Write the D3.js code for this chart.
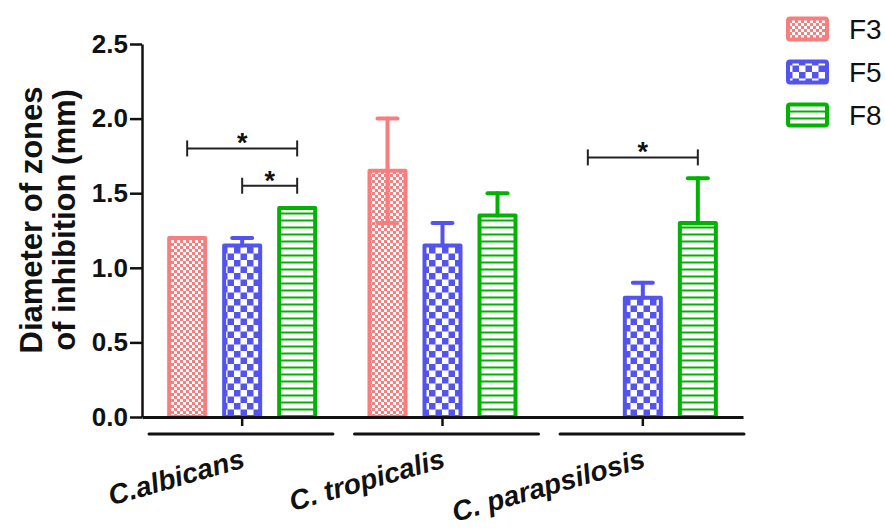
<!DOCTYPE html>
<html>
<head>
<meta charset="utf-8">
<script src="https://cdn.jsdelivr.net/npm/d3@7"></script>
<style>
  body { margin: 0; background: #fff; }
  text { font-family: "Liberation Sans", Arial, sans-serif; fill: #111; }
</style>
</head>
<body>
<div id="canvas"></div>
<script>
const categories = ["C.albicans", "C. tropicalis", "C. parapsilosis"];
const series = ["F3", "F5", "F8"];
const f3Mean = [1.2, 1.65, null];
const f3Err = [0, 0.35, 0];
const f5Mean = [1.15, 1.15, 0.8];
const f5Err = [0.05, 0.15, 0.1];
const f8Mean = [1.4, 1.35, 1.3];
const f8Err = [0, 0.15, 0.3];
const yTicks = [0, 0.5, 1.0, 1.5, 2.0, 2.5];
const sigCategory = ["C.albicans", "C.albicans", "C. parapsilosis"];
const sigFrom = ["F3", "F5", "F3"];
const sigTo = ["F8", "F8", "F8"];
const sigLevel = [1.8, 1.55, 1.74];

const colors = { F3: "#f57f7f", F5: "#5353ef", F8: "#00b300" };
const means = { F3: f3Mean, F5: f5Mean, F8: f8Mean };
const errs = { F3: f3Err, F5: f5Err, F8: f8Err };
const bothWays = { F3: true, F5: false, F8: false };

const width = 885;
const height = 530;
const margin = { top: 44, left: 142, bottom: 113, right: 142 };

const svg = d3.select("#canvas").append("svg")
  .attr("width", width)
  .attr("height", height);

const defs = svg.append("defs");

const p3 = defs.append("pattern").attr("id", "pat-F3")
  .attr("patternUnits", "userSpaceOnUse").attr("width", 6).attr("height", 6);
p3.append("rect").attr("width", 6).attr("height", 6).attr("fill", "#fff");
p3.append("rect").attr("width", 3).attr("height", 3).attr("fill", colors.F3);
p3.append("rect").attr("x", 3).attr("y", 3).attr("width", 3).attr("height", 3).attr("fill", colors.F3);

const p5 = defs.append("pattern").attr("id", "pat-F5")
  .attr("patternUnits", "userSpaceOnUse").attr("width", 13).attr("height", 13);
p5.append("rect").attr("width", 13).attr("height", 13).attr("fill", "#fff");
p5.append("rect").attr("width", 6.5).attr("height", 6.5).attr("fill", colors.F5);
p5.append("rect").attr("x", 6.5).attr("y", 6.5).attr("width", 6.5).attr("height", 6.5).attr("fill", colors.F5);

const p8 = defs.append("pattern").attr("id", "pat-F8")
  .attr("patternUnits", "userSpaceOnUse").attr("width", 10).attr("height", 7);
p8.append("rect").attr("width", 10).attr("height", 7).attr("fill", "#fff");
p8.append("rect").attr("y", 2.5).attr("width", 10).attr("height", 2).attr("fill", colors.F8);

const x = d3.scaleBand().domain(categories).range([margin.left, width - margin.right]);
const xs = d3.scaleBand().domain(series).range([-75, 75]).paddingInner(15 / 55);
const xu = d3.scaleBand().domain(categories).range([149, 744]).paddingInner(0.105);
const y = d3.scaleLinear().domain([0, 2.5]).range([height - margin.bottom, margin.top]);

const cx = (c, s) => x(c) + x.bandwidth() / 2 + xs(s) + xs.bandwidth() / 2;

const rows = [];
categories.forEach((c, i) => {
  series.forEach((s) => {
    if (means[s][i] != null) rows.push({ c: c, s: s, v: means[s][i], e: errs[s][i] });
  });
});

const sw = 4;

svg.append("g").selectAll("rect").data(rows).enter().append("rect")
  .attr("x", (d) => cx(d.c, d.s) - xs.bandwidth() / 2 + sw / 2)
  .attr("y", (d) => y(d.v))
  .attr("width", xs.bandwidth() - sw)
  .attr("height", (d) => y(0) - y(d.v))
  .attr("fill", (d) => `url(#pat-${d.s})`)
  .attr("stroke", (d) => colors[d.s])
  .attr("stroke-width", sw)
  .attr("stroke-linejoin", "round");

const errRows = rows.filter((d) => d.e > 0);
const eg = svg.append("g")
  .attr("stroke-width", 4)
  .attr("stroke-linecap", "round");

eg.selectAll("line.up").data(errRows).enter().append("line")
  .attr("class", "up")
  .attr("stroke", (d) => colors[d.s])
  .attr("x1", (d) => cx(d.c, d.s))
  .attr("x2", (d) => cx(d.c, d.s))
  .attr("y1", (d) => y(bothWays[d.s] ? d.v - d.e : d.v))
  .attr("y2", (d) => y(d.v + d.e));

eg.selectAll("line.cap").data(errRows).enter().append("line")
  .attr("class", "cap")
  .attr("stroke", (d) => colors[d.s])
  .attr("x1", (d) => cx(d.c, d.s) - 10)
  .attr("x2", (d) => cx(d.c, d.s) + 10)
  .attr("y1", (d) => y(d.v + d.e))
  .attr("y2", (d) => y(d.v + d.e));

eg.selectAll("line.low").data(errRows.filter((d) => bothWays[d.s])).enter().append("line")
  .attr("class", "low")
  .attr("stroke", (d) => colors[d.s])
  .attr("x1", (d) => cx(d.c, d.s) - 10)
  .attr("x2", (d) => cx(d.c, d.s) + 10)
  .attr("y1", (d) => y(d.v - d.e))
  .attr("y2", (d) => y(d.v - d.e));

// y axis
const yAxis = svg.append("g")
  .attr("transform", `translate(${margin.left}, 0)`)
  .call(d3.axisLeft(y).tickValues(yTicks).tickFormat(d3.format(".1f"))
    .tickSize(12).tickSizeOuter(0).tickPadding(2));
yAxis.select(".domain").attr("stroke", "#111").attr("stroke-width", 2.5);
yAxis.selectAll(".tick line").attr("stroke", "#111").attr("stroke-width", 2.5);
yAxis.selectAll(".tick text")
  .style("font-family", "'Liberation Sans', Arial, sans-serif")
  .style("font-size", "26px").style("font-weight", "bold").attr("fill", "#111");

// x axis
const xAxis = svg.append("g")
  .attr("transform", `translate(0, ${y(0)})`)
  .call(d3.axisBottom(x).tickSize(9).tickSizeOuter(0).tickFormat(""));
xAxis.select(".domain").attr("stroke", "#111").attr("stroke-width", 3);
xAxis.selectAll(".tick line").attr("stroke", "#111").attr("stroke-width", 2.5);

svg.append("g").selectAll("line").data(categories).enter().append("line")
  .attr("x1", (d) => xu(d))
  .attr("x2", (d) => xu(d) + xu.bandwidth())
  .attr("y1", y(0) + 17)
  .attr("y2", y(0) + 17)
  .attr("stroke", "#111")
  .attr("stroke-width", 3)
  .attr("stroke-linecap", "round");

svg.append("g").selectAll("text").data(categories).enter().append("text")
  .attr("transform", (d) => `translate(${x(d) + x.bandwidth() / 2 + 4}, ${y(0) + 50}) rotate(-16)`)
  .attr("text-anchor", "end")
  .style("font-size", "28px")
  .style("font-weight", "bold")
  .style("font-style", "italic")
  .text((d) => d);

// y title
const title = svg.append("text")
  .attr("transform", "translate(42, 220) rotate(-90)")
  .attr("text-anchor", "middle")
  .style("font-size", "31px")
  .style("font-weight", "bold");
title.append("tspan").attr("x", 0).attr("y", 0).text("Diameter of zones");
title.append("tspan").attr("x", 0).attr("y", 33).text("of inhibition (mm)");

// significance brackets
const sig = sigCategory.map((c, i) => ({ c: c, a: sigFrom[i], b: sigTo[i], v: sigLevel[i] }));
const sg = svg.append("g").attr("stroke", "#222").attr("stroke-width", 2);
sg.selectAll("line.h").data(sig).enter().append("line")
  .attr("x1", (d) => cx(d.c, d.a)).attr("x2", (d) => cx(d.c, d.b))
  .attr("y1", (d) => y(d.v)).attr("y2", (d) => y(d.v));
sg.selectAll("line.l").data(sig).enter().append("line")
  .attr("x1", (d) => cx(d.c, d.a)).attr("x2", (d) => cx(d.c, d.a))
  .attr("y1", (d) => y(d.v) - 8).attr("y2", (d) => y(d.v) + 8);
sg.selectAll("line.r").data(sig).enter().append("line")
  .attr("x1", (d) => cx(d.c, d.b)).attr("x2", (d) => cx(d.c, d.b))
  .attr("y1", (d) => y(d.v) - 8).attr("y2", (d) => y(d.v) + 8);
svg.append("g").selectAll("text").data(sig).enter().append("text")
  .attr("x", (d) => (cx(d.c, d.a) + cx(d.c, d.b)) / 2)
  .attr("y", (d) => y(d.v) + 4)
  .attr("text-anchor", "middle")
  .style("font-size", "27px")
  .style("font-weight", "bold")
  .text("*");

// legend
const ly = d3.scalePoint().domain(series).range([29, 115]);
const lg = svg.append("g").selectAll("g").data(series).enter().append("g")
  .attr("transform", (d) => `translate(786, ${ly(d)})`);
lg.append("rect")
  .attr("x", 2).attr("y", -10.5)
  .attr("width", 39).attr("height", 21)
  .attr("rx", 2)
  .attr("fill", (d) => `url(#pat-${d})`)
  .attr("stroke", (d) => colors[d])
  .attr("stroke-width", 4);
lg.append("text")
  .attr("x", 63).attr("y", 0)
  .attr("dy", "0.35em")
  .style("font-size", "28px")
  .text((d) => d);
</script>
</body>
</html>
